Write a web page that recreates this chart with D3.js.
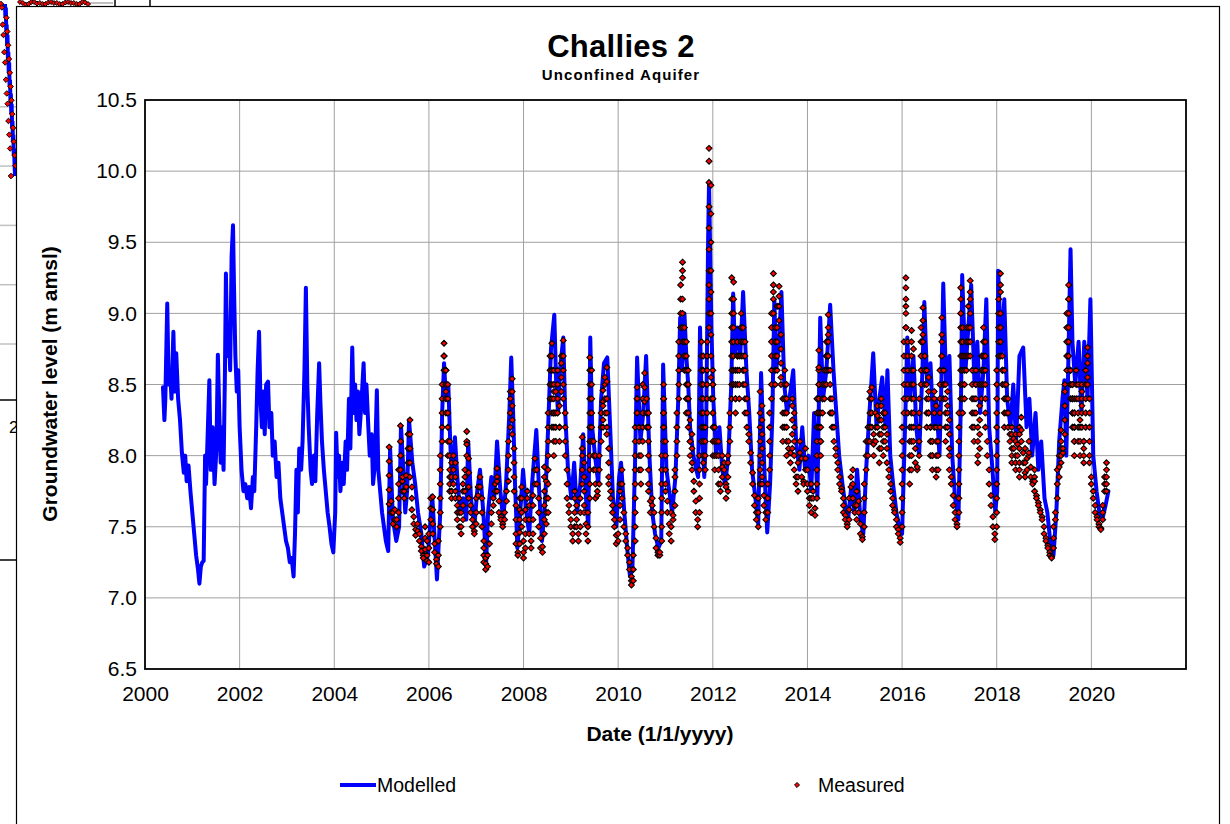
<!DOCTYPE html>
<html><head><meta charset="utf-8">
<script src="https://cdn.jsdelivr.net/npm/d3@7"></script>
<style>html,body{margin:0;padding:0;background:#fff;overflow:hidden}svg{display:block;font-family:"Liberation Sans",Arial,sans-serif}</style>
</head><body><svg id="c" width="1230" height="824"></svg>
<script>
const chartTitle = "Challies 2";
const chartSubtitle = "Unconfined Aquifer";
const xTitle = "Date (1/1/yyyy)";
const yTitle = "Groundwater level (m amsl)";
const seriesNames = ["Modelled", "Measured"];
const yTicks = [6.5, 7.0, 7.5, 8.0, 8.5, 9.0, 9.5, 10.0, 10.5];
const xTicks = [2000, 2002, 2004, 2006, 2008, 2010, 2012, 2014, 2016, 2018, 2020];

// Modelled groundwater level [decimal year, m amsl]
const modelled = [
[2000.38,8.48],[2000.41,8.25],[2000.43,8.4],[2000.47,9.07],[2000.50,8.5],[2000.53,8.6],[2000.56,8.4],[2000.60,8.87],[2000.63,8.45],[2000.66,8.72],[2000.70,8.4],[2000.74,8.25],[2000.78,8.02],[2000.82,7.88],[2000.85,8.0],[2000.88,7.82],[2000.92,7.93],[2000.96,7.75],
[2001.00,7.6],[2001.04,7.45],[2001.08,7.3],[2001.12,7.2],[2001.15,7.1],[2001.18,7.22],[2001.21,7.25],[2001.24,7.26],[2001.27,8.0],[2001.29,7.8],[2001.32,8.1],[2001.36,8.53],[2001.39,7.9],[2001.43,8.2],[2001.47,7.8],[2001.51,8.05],[2001.54,8.71],[2001.57,8.3],[2001.60,7.95],[2001.63,8.2],[2001.66,7.9],[2001.69,8.6],[2001.71,9.28],[2001.74,8.7],[2001.77,8.9],[2001.80,8.6],[2001.83,9.4],[2001.86,9.62],[2001.88,9.2],[2001.91,8.7],[2001.94,8.45],[2001.97,8.6],
[2002.00,8.2],[2002.04,7.9],[2002.08,7.75],[2002.12,7.8],[2002.16,7.7],[2002.20,7.78],[2002.24,7.63],[2002.28,7.85],[2002.31,7.75],[2002.35,8.2],[2002.38,8.6],[2002.41,8.87],[2002.44,8.4],[2002.47,8.2],[2002.50,8.45],[2002.53,8.15],[2002.56,8.5],[2002.60,8.52],[2002.63,8.2],[2002.67,8.3],[2002.70,8.0],[2002.74,8.1],[2002.78,7.85],[2002.82,7.95],[2002.86,7.7],[2002.90,7.6],[2002.94,7.5],[2002.98,7.4],
[2003.02,7.35],[2003.06,7.25],[2003.10,7.28],[2003.14,7.15],[2003.17,7.45],[2003.20,7.9],[2003.23,7.6],[2003.26,8.05],[2003.30,7.9],[2003.33,8.1],[2003.37,8.6],[2003.40,9.18],[2003.43,8.5],[2003.46,8.2],[2003.50,7.9],[2003.53,7.8],[2003.57,8.0],[2003.60,7.82],[2003.64,8.3],[2003.68,8.65],[2003.71,8.35],[2003.74,8.1],[2003.78,7.9],[2003.82,7.75],[2003.86,7.6],[2003.90,7.5],[2003.94,7.38],[2003.98,7.32],
[2004.02,7.6],[2004.04,8.16],[2004.07,7.85],[2004.10,8.0],[2004.13,7.75],[2004.17,7.95],[2004.20,7.8],[2004.24,8.1],[2004.27,7.9],[2004.31,8.4],[2004.34,8.05],[2004.38,8.76],[2004.41,8.3],[2004.44,8.5],[2004.47,8.25],[2004.50,8.45],[2004.53,8.15],[2004.57,8.35],[2004.62,8.65],[2004.65,8.3],[2004.68,8.5],[2004.72,8.2],[2004.75,8.0],[2004.79,8.15],[2004.82,7.8],[2004.86,7.95],[2004.90,8.46],[2004.93,7.9],[2004.97,7.75],
[2005.01,7.6],[2005.05,7.5],[2005.09,7.4],[2005.14,7.33],[2005.18,8.05],[2005.24,7.55],[2005.31,7.4],[2005.37,7.5],[2005.41,8.21],[2005.46,7.9],[2005.50,7.6],[2005.54,7.75],[2005.58,8.25],[2005.65,7.95],[2005.71,7.8],[2005.77,7.6],[2005.84,7.45],[2005.90,7.22],[2005.98,7.3],
[2006.07,7.72],[2006.17,7.13],[2006.24,7.6],[2006.28,8.3],[2006.32,8.65],[2006.36,8.4],[2006.41,8.5],[2006.45,8.1],[2006.49,7.8],[2006.55,8.13],[2006.60,7.85],[2006.66,7.6],[2006.72,7.7],[2006.79,7.55],[2006.83,8.1],[2006.89,7.7],[2006.96,7.5],
[2007.02,7.75],[2007.08,7.9],[2007.15,7.6],[2007.21,7.25],[2007.25,7.6],[2007.32,7.85],[2007.38,7.7],[2007.44,8.1],[2007.51,7.75],[2007.57,7.55],[2007.63,7.8],[2007.70,8.3],[2007.74,8.69],[2007.78,8.3],[2007.82,7.8],[2007.87,7.35],[2007.93,7.6],[2007.99,7.9],
[2008.06,7.6],[2008.12,7.45],[2008.18,7.8],[2008.27,8.18],[2008.33,7.75],[2008.39,7.4],[2008.46,7.7],[2008.52,8.2],[2008.58,8.75],[2008.65,8.99],[2008.69,8.5],[2008.73,8.3],[2008.77,8.6],[2008.84,8.83],[2008.88,8.3],[2008.94,7.9],
[2009.01,7.7],[2009.07,7.95],[2009.13,7.6],[2009.20,7.8],[2009.26,8.15],[2009.32,7.7],[2009.37,7.5],[2009.41,8.83],[2009.45,8.2],[2009.51,8.0],[2009.58,7.8],[2009.64,8.4],[2009.70,8.65],[2009.77,8.69],[2009.83,8.2],[2009.89,7.7],[2009.96,7.5],
[2010.02,7.85],[2010.06,7.95],[2010.13,7.6],[2010.19,7.35],[2010.25,7.15],[2010.30,7.2],[2010.36,8.0],[2010.40,8.69],[2010.47,8.1],[2010.53,8.3],[2010.59,8.7],[2010.66,8.0],[2010.72,7.6],[2010.78,7.45],[2010.85,7.35],[2010.91,7.4],[2010.95,8.64],
[2011.02,7.9],[2011.08,7.75],[2011.14,7.6],[2011.21,7.85],[2011.27,8.4],[2011.31,8.97],[2011.35,8.6],[2011.40,9.0],[2011.44,8.7],[2011.48,8.5],[2011.52,8.2],[2011.59,8.0],[2011.65,7.9],[2011.69,7.85],[2011.73,8.9],[2011.78,8.1],[2011.82,7.85],[2011.86,8.2],[2011.90,9.5],[2011.92,9.92],[2011.97,8.9],
[2012.01,8.4],[2012.07,8.0],[2012.14,8.2],[2012.20,7.9],[2012.26,7.8],[2012.33,8.0],[2012.39,8.5],[2012.43,9.14],[2012.47,8.7],[2012.52,8.9],[2012.58,8.7],[2012.64,9.15],[2012.71,8.6],[2012.77,8.3],[2012.83,7.9],[2012.90,7.7],[2012.96,7.52],
[2013.02,8.58],[2013.09,7.9],[2013.15,7.46],[2013.21,7.8],[2013.26,8.3],[2013.30,9.1],[2013.34,8.6],[2013.40,8.8],[2013.45,9.15],[2013.51,8.5],[2013.57,8.3],[2013.64,8.45],[2013.70,8.6],[2013.76,8.1],[2013.83,7.9],[2013.89,8.2],[2013.95,7.9],
[2014.02,8.0],[2014.08,7.75],[2014.14,8.3],[2014.21,7.7],[2014.27,8.97],[2014.33,8.4],[2014.40,8.6],[2014.48,9.06],[2014.55,8.6],[2014.61,8.3],[2014.67,8.0],[2014.74,7.8],[2014.80,7.65],[2014.86,7.55],[2014.93,7.8],[2014.99,7.6],
[2015.05,7.9],[2015.12,7.55],[2015.18,7.45],[2015.24,7.9],[2015.31,8.3],[2015.39,8.72],[2015.46,8.2],[2015.52,8.4],[2015.58,8.55],[2015.65,8.2],[2015.69,8.6],[2015.75,8.0],[2015.81,7.8],[2015.88,7.6],[2015.94,7.5],
[2016.00,7.45],[2016.07,8.3],[2016.11,8.83],[2016.17,8.4],[2016.24,8.7],[2016.30,8.2],[2016.36,8.0],[2016.43,8.6],[2016.47,9.08],[2016.53,8.5],[2016.60,8.65],[2016.66,8.2],[2016.72,8.4],[2016.79,8.0],[2016.83,8.5],[2016.87,9.21],[2016.93,8.5],
[2017.00,8.7],[2017.06,8.0],[2017.12,7.7],[2017.19,7.55],[2017.25,8.5],[2017.27,9.27],[2017.34,8.6],[2017.40,8.9],[2017.46,9.2],[2017.53,8.5],[2017.59,8.8],[2017.65,8.3],[2017.72,8.6],[2017.78,9.1],[2017.84,8.2],[2017.91,7.9],[2017.97,7.6],
[2018.01,7.75],[2018.03,9.3],[2018.10,8.7],[2018.16,9.1],[2018.22,8.4],[2018.29,8.2],[2018.35,8.5],[2018.41,8.1],[2018.48,8.7],[2018.56,8.76],[2018.63,8.2],[2018.69,8.4],[2018.75,8.0],[2018.82,8.3],[2018.88,7.9],[2018.94,8.1],
[2019.01,7.7],[2019.07,7.6],[2019.13,7.4],[2019.20,7.3],[2019.26,7.6],[2019.32,8.1],[2019.39,8.4],[2019.43,8.53],[2019.47,8.0],[2019.51,8.6],[2019.56,9.45],[2019.60,8.8],[2019.66,8.5],[2019.73,8.8],[2019.79,8.3],[2019.85,8.8],[2019.92,8.4],[2019.98,9.1],
[2020.04,8.0],[2020.11,7.75],[2020.17,7.6],[2020.23,7.55],[2020.30,7.65],[2020.36,7.75]
];

// Measured levels: one entry per 0.04-year step from measuredStart; each entry lists the readings seen in that step
const measuredStart = 2005.16;
const measuredStep = 0.04;
const measuredReadings = [
[8.06,7.96,7.86,7.76,7.66],[7.6,7.68],[7.6,7.52],[7.55,7.62],[7.55,7.5],[7.6,7.7,7.8,7.9],[8.0,8.1,8.21,8.1,8.0,7.9],[7.82,7.75,7.85],[7.75,7.7],[7.78,7.86],
[7.95,8.05,8.15],[8.25,8.15,8.05,7.95,7.85],[7.78,7.7,7.62],[7.57,7.52],[7.48,7.44],[7.47,7.52],[7.45,7.4],[7.36,7.33],[7.3,7.28],[7.34,7.42,7.5],
[7.4,7.3,7.26],[7.25,7.35,7.45],[7.55,7.63,7.7],[7.71,7.62,7.52,7.45],[7.38,7.32],[7.27,7.24],[7.22,7.3,7.4],[7.5,7.6,7.7,7.8,7.9,8.0],[8.1,8.2,8.3,8.4,8.5],[8.6,8.7,8.79,8.7],
[8.6,8.5,8.4,8.3,8.45,8.6],[8.5,8.4,8.3,8.2,8.1,8.0],[7.9,7.8,7.75,7.85,8.0,8.1],[7.95,7.85,7.75,7.7],[7.8,7.9,8.0],[7.95,7.85,7.75,7.7],[7.65,7.6,7.55],[7.5,7.6,7.7],[7.6,7.5,7.45],[7.55,7.65,7.75,7.8],
[7.75,7.85,7.9],[8.0,8.1,8.17,8.08],[7.98,7.88,7.78,7.7],[7.65,7.6],[7.55,7.5],[7.47,7.45],[7.52,7.6,7.7],[7.72,7.78],[7.85,7.78],[7.7,7.6,7.5],
[7.4,7.35,7.3,7.25],[7.2,7.24,7.28],[7.22,7.3],[7.38,7.45],[7.52,7.6],[7.65,7.7],[7.75,7.8],[7.85,7.91,7.82,7.75],[7.68,7.6],[7.57,7.55],
[7.52,7.5],[7.55,7.6],[7.68,7.75],[7.82,7.9,8.0,8.1],[8.2,8.3,8.4,8.45],[8.54,8.45,8.35,8.25,8.15],[8.05,7.95,7.85,7.75],[7.65,7.55,7.45,7.38],[7.32,7.3],[7.38,7.46,7.55,7.62,7.7],
[7.78,7.7,7.6,7.5],[7.4,7.32,7.28],[7.35,7.45,7.55,7.62],[7.7,7.75],[7.65,7.55,7.45],[7.4,7.35],[7.45,7.55,7.65,7.72],[7.8,7.9,7.98],[7.9,7.8],[7.7,7.6,7.5],
[7.42,7.35],[7.32,7.36],[7.45,7.55,7.65,7.75,7.85,7.92],[7.82,7.7,7.6,7.52],[7.6,7.7,7.8,7.9,8.0,8.1,8.2,8.3],[8.4,8.5,8.6,8.7],[8.79,8.7,8.6,8.5,8.4,8.3,8.2],[8.3,8.45,8.6,8.5,8.4,8.3,8.2,8.1,8.0],[8.1,8.2,8.3,8.45],[8.6,8.5,8.4,8.3],
[8.2,8.1,8.2,8.35],[8.45,8.55,8.65,8.7],[8.81,8.7,8.6,8.5,8.4],[8.3,8.2,8.1,8.0],[7.9,7.8,7.7],[7.65,7.6],[7.55,7.5],[7.45,7.4],[7.5,7.6,7.7,7.75],[7.65,7.55,7.5],
[7.45,7.4],[7.5,7.6,7.7],[7.8,7.9,8.0,8.13,8.05],[7.95,7.85,7.75,7.65,7.6],[7.52,7.45],[7.4,7.5,7.6],[7.7,7.8,7.9,8.0,8.1,8.2,8.3,8.4,8.5,8.6,8.69],[8.6,8.5,8.4,8.3,8.2,8.1],[8.0,7.9,8.0,8.1],[8.0,7.9,7.8,7.7],
[7.72,7.75],[7.8,7.9,8.0],[8.1,8.2,8.3],[8.38,8.46,8.35,8.25,8.2],[8.3,8.4,8.5,8.55],[8.62,8.52,8.4,8.3,8.2,8.15],[8.05,7.95,7.85,7.8],[7.75,7.7],[7.65,7.6],[7.55,7.5],
[7.44,7.38],[7.4,7.45],[7.55,7.65,7.75,7.8],[7.9,7.8,7.7],[7.6,7.5],[7.45,7.4],[7.35,7.3],[7.25,7.2],[7.15,7.12,7.09],[7.12,7.2,7.3],
[7.4,7.5,7.6,7.7,7.8,7.9,8.0,8.1,8.2],[8.3,8.4,8.48,8.4,8.3],[8.2,8.1,8.0,7.9],[7.8,7.9,8.0],[8.1,8.2,8.3,8.4,8.5],[8.58,8.48,8.38],[8.3,8.2,8.3,8.4],[8.3,8.2,8.1,8.0,7.9,7.8,7.75],[7.68,7.6],[7.65,7.7],
[7.6,7.5],[7.42,7.35],[7.32,7.3],[7.3,7.32],[7.4,7.5,7.6,7.7,7.8,7.9,8.0],[8.1,8.2,8.3,8.4,8.5,8.4,8.3,8.2],[8.1,8.0,7.9,7.8,7.75],[7.68,7.6],[7.52,7.45],[7.4,7.5,7.6],
[7.55,7.58],[7.65,7.75,7.85,7.9],[8.0,8.1,8.2,8.3],[8.4,8.5,8.6,8.7,8.8],[8.9,9.0,9.1,9.2],[9.3,9.36,9.25,9.1,9.0,8.9,8.8],[8.7,8.6,8.7,8.8,8.9],[8.8,8.7,8.6,8.5,8.4,8.3],[8.4,8.5,8.6,8.5,8.4,8.3,8.2],[8.1,8.0,8.1,8.25],
[8.15,8.05,7.95,7.9],[7.82,7.75],[7.68,7.6],[7.55,7.5],[7.6,7.7,7.8,7.9,8.0],[8.1,8.2,8.3,8.4,8.5,8.6,8.7,8.8],[8.7,8.6,8.5,8.4,8.3,8.2,8.1,8.0,7.95],[7.9,8.0,8.1,8.2],[8.3,8.4,8.5,8.6,8.7,8.8],[8.9,9.0,9.1,9.2,9.3,9.45,9.6,9.75,9.92,10.07,10.16],
[9.9,9.7,9.5,9.3,9.15,9.0,8.85,8.7,8.55,8.4],[8.3,8.4,8.5,8.6,8.5,8.4,8.3,8.2,8.1,8.0],[7.9,8.0,8.1,8.2],[8.1,8.0],[8.1,8.0,7.9,7.8],[7.75,7.8],[7.85,7.92,8.0],[7.95,7.9],[7.8,7.7,7.78],[7.75,7.85,7.95,8.0],
[8.1,8.2,8.3],[8.4,8.5,8.6,8.7,8.8,8.9,9.0,9.1,9.25],[9.22,9.1,9.0,8.9,8.8,8.7,8.6,8.5],[8.4,8.3,8.4,8.5,8.6],[8.7,8.8,8.7,8.6,8.5],[8.4,8.5,8.6,8.7],[8.8,8.9,9.0,8.9,8.8,8.7],[8.6,8.5,8.6,8.7,8.8,8.9],[8.8,8.7,8.6,8.5,8.4,8.3],[8.4,8.3,8.2],
[8.15,8.1],[8.02,7.95],[7.88,7.8],[7.72,7.65],[7.6,7.55],[7.5,7.6,7.7],[7.8,7.9,8.0,8.1,8.2,8.3,8.45],[8.35,8.25,8.15,8.05,7.95,7.85,7.8],[7.72,7.65],[7.6,7.55],
[7.6,7.7,7.8],[7.9,8.0,8.1,8.2,8.3],[8.4,8.5,8.6,8.7,8.8,8.9,9.0],[9.1,9.2,9.28,9.15,9.0],[8.9,8.8,8.7,8.6,8.5],[8.6,8.7,8.8,8.9,9.05],[9.12,9.19,9.05,8.95],[8.85,8.75,8.65,8.55,8.5],[8.4,8.3,8.2,8.1],[8.2,8.3,8.4,8.5,8.6],
[8.5,8.4,8.3,8.2,8.1,8.0],[8.05,8.1],[8.02,7.95],[8.05,8.15,8.25,8.35,8.4],[8.3,8.2,8.1,8.0,7.9],[7.85,7.8],[7.75,7.85,7.95],[8.02,8.1],[7.98,7.85],[7.82,7.8],
[7.9,7.98,8.05],[7.9,7.8,7.75],[7.7,7.65],[7.6,7.7,7.8],[7.75,7.7],[7.63,7.58],[7.7,7.8,7.9,8.0,8.1,8.2,8.3,8.4],[8.5,8.6,8.74,8.62,8.5,8.4,8.3,8.2],[8.1,8.0,8.1,8.2,8.3],[8.4,8.5,8.4,8.3],
[8.4,8.5,8.6],[8.7,8.8,8.7,8.6,8.5],[8.6,8.7,8.8,8.9,8.99,8.85,8.7],[8.6,8.5,8.4,8.3],[8.2,8.3,8.4,8.3],[8.2,8.1],[8.05,8.0],[7.95,7.9],[7.85,7.8],[7.77,7.75],
[7.7,7.65,7.6],[7.58,7.55],[7.52,7.5],[7.55,7.62,7.7],[7.78,7.85],[7.9,7.8,7.7],[7.65,7.6],[7.55,7.65,7.75],[7.68,7.6],[7.52,7.45],
[7.43,7.41],[7.5,7.6,7.7,7.8],[7.9,8.0,8.1],[8.2,8.1,8.0],[8.1,8.2,8.3,8.4,8.45],[8.48,8.4,8.3,8.2],[8.1,8.0,8.08,8.15],[8.3,8.2,8.1],[8.2,8.28,8.35],[8.25,8.15,8.05,7.95],
[8.05,8.15,8.25,8.35,8.4],[8.3,8.2,8.1,8.0],[8.1,8.2,8.3],[8.15,8.05,7.95],[7.9,7.85],[7.8,7.75],[7.7,7.65],[7.62,7.6],[7.55,7.5],[7.48,7.45],
[7.42,7.39],[7.5,7.6,7.7,7.8,7.9,8.0,8.1,8.2],[8.3,8.4,8.5,8.6,8.7,8.8],[8.9,9.0,9.1,9.25,9.18,9.05,8.9],[8.8,8.7,8.6,8.5,8.4,8.3],[8.2,8.1,8.0,7.9,7.8],[7.9,8.0,8.1,8.2,8.3,8.4,8.5,8.6,8.7,8.8,8.88],[8.75,8.6,8.5,8.4,8.3,8.2,8.1],[8.05,7.95],[7.9,7.92],
[8.0,8.1,8.2,8.3,8.4],[8.5,8.6,8.7,8.8,8.9],[9.04,8.95,8.85,8.8],[8.7,8.6,8.5,8.6,8.7],[8.6,8.5,8.4,8.3,8.2],[8.3,8.4,8.55,8.45,8.3],[8.2,8.1,8.0,8.1,8.2],[8.1,8.0,7.9,8.0,8.1],[8.2,8.3,8.4,8.45],[8.35,8.2,8.1,8.0,7.9,7.85],
[7.9,8.0,8.1],[8.2,8.3,8.4,8.5,8.6],[8.7,8.8,8.97,8.85,8.7],[8.6,8.5,8.4,8.5,8.6],[8.5,8.4,8.3,8.2,8.1],[8.2,8.3,8.45,8.35],[8.25,8.15,8.05,8.0,7.9],[7.85,7.8],[7.72,7.65],[7.6,7.55],
[7.52,7.5],[7.6,7.7,7.8,7.9,8.0,8.1,8.2,8.3],[8.4,8.5,8.6,8.7,8.8,8.9,9.0,9.1,9.18,9.0],[8.9,8.8,8.7,8.6,8.5,8.4,8.3],[8.4,8.5,8.6,8.7],[8.8,8.9,8.8,8.7,8.6],[8.7,8.8,8.9,9.05],[9.15,9.23,9.1,9.0,8.9,8.8,8.7],[8.6,8.5,8.4,8.3,8.2],[8.1,8.2,8.3,8.4],
[8.5,8.6,8.5,8.4,8.3],[8.2,8.1,8.0,7.95],[8.05,8.15,8.25,8.35,8.5],[8.6,8.7,8.6,8.5,8.4],[8.5,8.6,8.7,8.8,8.9],[8.8,8.7,8.6,8.5,8.4,8.3,8.2],[8.1,8.0],[7.9,7.8],[7.72,7.65],[7.57,7.5],
[7.45,7.41],[7.5,7.6,7.7,7.8,7.9,8.0,8.1,8.2,8.3,8.4,8.5,8.6],[8.7,8.8,8.9,9.0,9.1],[9.2,9.28,9.15,9.0,8.9,8.8,8.7],[8.6,8.5,8.6,8.7],[8.6,8.5,8.4,8.3,8.2],[8.3,8.4,8.5],[8.4,8.3,8.2],[8.15,8.1],[8.0,7.95,8.05,8.15,8.2],
[8.12,8.05],[7.95,7.9,8.0,8.1,8.15],[8.08,8.0],[7.9,7.85,7.95,8.05,8.15,8.2],[8.27,8.18,8.1],[8.02,7.95],[7.88,7.85,7.95,8.05],[7.98,7.9],[8.0,8.1,8.02],[7.92,7.85],
[7.82,7.8],[7.85,7.9,7.82,7.75],[7.72,7.7],[7.67,7.65],[7.62,7.6],[7.57,7.55],[7.5,7.45],[7.42,7.4],[7.37,7.35],[7.32,7.3],
[7.29,7.28],[7.35,7.42,7.5],[7.55,7.6],[7.7,7.8,7.9],[8.0,7.92,7.85],[7.95,8.05,8.18,8.1,8.0],[8.02,8.05],[8.15,8.25,8.35,8.45,8.5],[8.6,8.7,8.8,8.9,9.0],[9.1,9.2,9.1,9.0,8.9,8.8,8.7],
[8.6,8.5,8.4,8.5,8.6],[8.5,8.4,8.3,8.2,8.3,8.4,8.5],[8.4,8.3,8.2,8.1,8.0,8.1,8.2,8.3],[8.4,8.5,8.6],[8.5,8.4,8.3,8.2,8.1],[8.0,8.1,8.2,8.25],[8.35,8.45,8.5,8.4,8.3,8.2],[8.1,8.0,7.95,8.05,8.1],[8.2,8.3,8.4,8.5,8.6],[8.7,8.76,8.65,8.55,8.5],
[8.4,8.3,8.2,8.1,8.0,7.95],[7.85,7.8],[7.75,7.7],[7.65,7.6],[7.57,7.55],[7.52,7.5],[7.49,7.48],[7.55,7.6,7.65],[7.75,7.8,7.85],[7.95,7.9,7.85,7.8,7.75]
];

// Edge of the chart lying behind this one (only a thin strip shows)
const behindLevels = [9.3,9.1,9.25,8.9,9.0,8.7,8.85,8.5,8.6,8.3,8.45,8.1,8.2,7.9,8.0,7.7,7.85,7.5,7.6,7.3,7.4,7.1,7.2,6.95,6.8];
const behindGrid = [8.5, 8.0, 7.5, 7.0, 6.5];

const svg = d3.select("#c");
const W = 1230, H = 824;
svg.append("rect").attr("width", W).attr("height", H).attr("fill", "#fff");

// ---- background chart strip ----
const back = svg.append("g");
const yBack = d3.scaleLinear().domain([6.5, 9.4]).range([344, 0]);
const yBackDots = d3.scaleLinear().domain([6.8, 9.3]).range([176, 4]);
const xBack = d3.scaleLinear().domain([0, behindLevels.length - 1]).range([2, 12]);
back.selectAll("line.bg").data(behindGrid).join("line")
  .attr("x1", 0).attr("x2", 16).attr("y1", d => yBack(d)).attr("y2", d => yBack(d))
  .attr("stroke", "#c0c0c0").attr("stroke-width", 1.5);
back.append("line").attr("x1", 0).attr("x2", 16).attr("y1", 400).attr("y2", 400).attr("stroke", "#000").attr("stroke-width", 1.5);
back.append("line").attr("x1", 0).attr("x2", 16).attr("y1", 560).attr("y2", 560).attr("stroke", "#000").attr("stroke-width", 1.5);
back.append("text").attr("x", 9).attr("y", 433).attr("font-size", 17).text("2");
back.append("path").datum(behindLevels)
  .attr("d", d3.line().x((d, i) => xBack(i) + 3).y(d => yBackDots(d)))
  .attr("fill", "none").attr("stroke", "#0000ff").attr("stroke-width", 4);
back.selectAll("path.bd").data(behindLevels).join("path")
  .attr("transform", (d, i) => `translate(${xBack(i) + (i % 2 ? 4 : -1)},${yBackDots(d)})`)
  .attr("d", d3.symbol(d3.symbolDiamond2, 20)).attr("fill", "#ff0000").attr("stroke", "#000").attr("stroke-width", 1);
// top strip
back.append("line").attr("x1", 57).attr("x2", 68).attr("y1", 3).attr("y2", 3).attr("stroke", "#c0c0c0").attr("stroke-width", 2);
back.append("line").attr("x1", 90).attr("x2", 113).attr("y1", 3).attr("y2", 3).attr("stroke", "#c0c0c0").attr("stroke-width", 2);
back.append("line").attr("x1", 115).attr("x2", 115).attr("y1", 0).attr("y2", 6).attr("stroke", "#000").attr("stroke-width", 1.5);
back.append("line").attr("x1", 150).attr("x2", 150).attr("y1", 0).attr("y2", 6).attr("stroke", "#000").attr("stroke-width", 1.5);
const topStrip = d3.scaleLinear().domain([0, behindLevels.length - 1]).range([20, 88]);
back.selectAll("path.td").data(behindLevels).join("path")
  .attr("transform", (d, i) => `translate(${topStrip(i)},${2 + (d * 10) % 3})`)
  .attr("d", d3.symbol(d3.symbolDiamond2, 16)).attr("fill", "#ff0000").attr("stroke", "#000").attr("stroke-width", 1);

// ---- chart area ----
svg.append("rect").attr("x", 16.5).attr("y", 6.5).attr("width", 1203).attr("height", 840)
  .attr("fill", "#fff").attr("stroke", "#000").attr("stroke-width", 1.2);

const x = d3.scaleLinear().domain([2000, 2022]).range([145, 1186]);
const y = d3.scaleLinear().domain([6.5, 10.5]).range([669, 100]);

// gridlines
const grid = svg.append("g");
grid.selectAll("line.v").data(xTicks.filter(d => d > 2000)).join("line")
  .attr("x1", d => x(d)).attr("x2", d => x(d)).attr("y1", y(10.5)).attr("y2", y(6.5))
  .attr("stroke", "#a0a0a0").attr("stroke-width", 1);
grid.selectAll("line.h").data(yTicks.filter(d => d > 6.5 && d < 10.5)).join("line")
  .attr("x1", x(2000)).attr("x2", x(2022)).attr("y1", d => y(d)).attr("y2", d => y(d))
  .attr("stroke", "#a0a0a0").attr("stroke-width", 1);

// clip
svg.append("clipPath").attr("id", "plotclip").append("rect")
  .attr("x", x(2000)).attr("y", y(10.5)).attr("width", x(2022) - x(2000)).attr("height", y(6.5) - y(10.5));
const plot = svg.append("g").attr("clip-path", "url(#plotclip)");

plot.append("path").datum(modelled)
  .attr("d", d3.line().x(d => x(d[0])).y(d => y(d[1])))
  .attr("fill", "none").attr("stroke", "#0000ff").attr("stroke-width", 4)
  .attr("stroke-linejoin", "round").attr("stroke-linecap", "round");

const measured = [];
measuredReadings.forEach((e, i) => {
  const t = measuredStart + i * measuredStep;
  (Array.isArray(e) ? e : [e]).forEach(v => measured.push([t, v]));
});
const diamond = d3.symbol(d3.symbolDiamond2, 22);
plot.selectAll("path.m").data(measured).join("path")
  .attr("transform", d => `translate(${x(d[0])},${y(d[1])})`)
  .attr("d", diamond).attr("fill", "#ff0000").attr("stroke", "#000").attr("stroke-width", 1.1);

// plot border
svg.append("rect").attr("x", x(2000)).attr("y", y(10.5)).attr("width", x(2022) - x(2000)).attr("height", y(6.5) - y(10.5))
  .attr("fill", "none").attr("stroke", "#000").attr("stroke-width", 1.8);

// axes labels
const xAxis = svg.append("g").attr("transform", `translate(0,${y(6.5)})`)
  .call(d3.axisBottom(x).tickValues(xTicks).tickFormat(d3.format("d")).tickSize(0).tickPadding(17));
const yAxis = svg.append("g").attr("transform", `translate(${x(2000)},0)`)
  .call(d3.axisLeft(y).tickValues(yTicks).tickFormat(d3.format(".1f")).tickSize(0).tickPadding(8));
[xAxis, yAxis].forEach(a => {
  a.select(".domain").remove();
  a.selectAll("text").attr("font-size", 21).attr("font-family", '"Liberation Sans", Arial, sans-serif').attr("fill", "#000");
});

// titles
svg.append("text").attr("x", 621).attr("y", 57).attr("text-anchor", "middle")
  .attr("font-size", 31).attr("font-weight", "bold").attr("letter-spacing", 0.3).text(chartTitle);
svg.append("text").attr("x", 621).attr("y", 80).attr("text-anchor", "middle")
  .attr("font-size", 15).attr("font-weight", "bold").attr("letter-spacing", 1.1).text(chartSubtitle);
svg.append("text").attr("x", 660).attr("y", 741).attr("text-anchor", "middle")
  .attr("font-size", 21).attr("font-weight", "bold").text(xTitle);
svg.append("text").attr("transform", "translate(57,384) rotate(-90)").attr("text-anchor", "middle")
  .attr("font-size", 21).attr("font-weight", "bold").text(yTitle);

// legend
const lg = svg.append("g");
lg.append("line").attr("x1", 340).attr("x2", 376).attr("y1", 785).attr("y2", 785)
  .attr("stroke", "#0000ff").attr("stroke-width", 4);
lg.append("text").attr("x", 377).attr("y", 792).attr("font-size", 19.5).text(seriesNames[0]);
lg.append("path").attr("transform", "translate(797,785)").attr("d", d3.symbol(d3.symbolDiamond2, 16))
  .attr("fill", "#ff0000").attr("stroke", "#000").attr("stroke-width", 1);
lg.append("text").attr("x", 818).attr("y", 792).attr("font-size", 19.5).text(seriesNames[1]);
</script></body></html>
